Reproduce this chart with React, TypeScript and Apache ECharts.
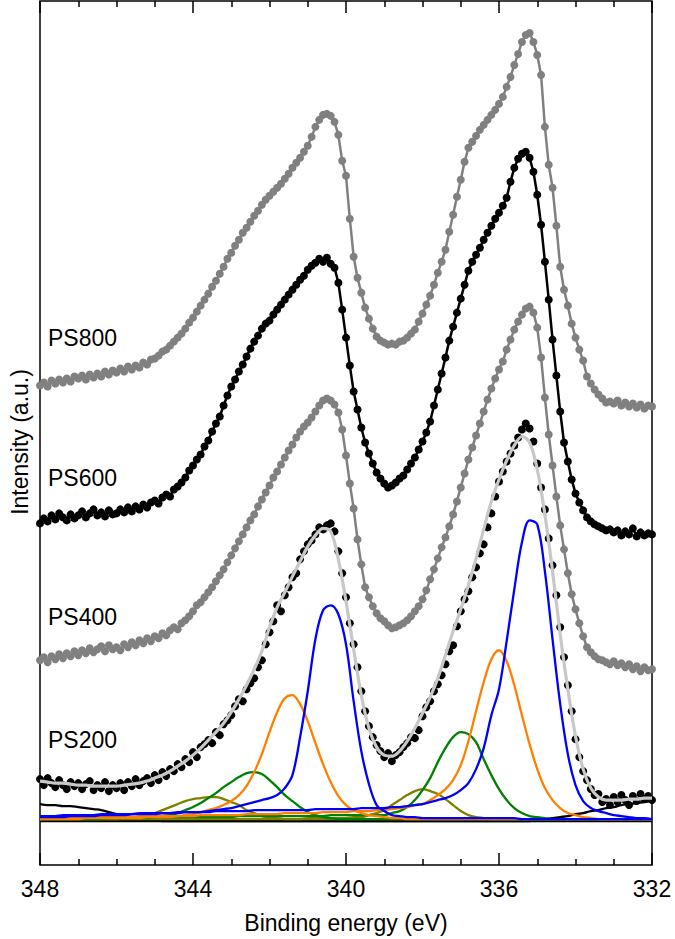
import React, { useEffect, useRef } from "react";
import * as echarts from "echarts";

// Binding energy grid: spectra sampled every 0.1 eV, fitted curves every 0.2 eV, from 348 down to 332 eV
const E_START = 348;
const SPEC_STEP = 0.1;
const FIT_STEP = 0.2;
const X_MIN = 332;
const X_MAX = 348;
const X_TICKS = [348, 344, 340, 336, 332];

const sampleNames = ["PS800", "PS600", "PS400", "PS200"];

// Measured spectra (offset for display, arbitrary units)
const ps800 = [
  480, 483, 479, 485, 482, 486, 483, 487, 484, 489,
  487, 490, 486, 491, 488, 492, 489, 494, 491, 495,
  493, 497, 494, 499, 496, 500, 498, 503, 501, 506,
  507, 510, 514, 516, 520, 524, 528, 532, 537, 543,
  548, 554, 560, 566, 572, 579, 585, 592, 599, 607,
  613, 620, 626, 633, 638, 644, 650, 655, 661, 666,
  670, 674, 678, 682, 687, 692, 698, 703, 708, 714,
  720, 729, 739, 746, 751, 752, 750, 744, 731, 705,
  690, 647, 609, 588, 573, 558, 547, 537, 529, 525,
  523, 521, 522, 521, 524, 525, 528, 532, 536, 544,
  552, 561, 570, 581, 593, 604, 616, 634, 651, 669,
  686, 704, 718, 724, 730, 736, 741, 746, 751, 756,
  762, 769, 779, 789, 801, 812, 824, 831, 833, 824,
  811, 791, 739, 701, 678, 640, 599, 576, 560, 542,
  528, 516, 505, 489, 482, 476, 471, 467, 463, 464,
  462, 465, 460, 463, 459, 462, 458, 461, 457, 460,
  459,
];

const ps600 = [
  342, 347, 344, 350, 346, 352, 348, 345, 351, 347,
  350, 354, 348, 352, 356, 350, 353, 349, 355, 351,
  352, 356, 353, 358, 354, 359, 356, 361, 358, 363,
  365, 362, 368, 371, 369, 376, 379, 383, 388, 395,
  400, 406, 411, 419, 425, 434, 442, 449, 460, 470,
  479, 486, 494, 501, 509, 517, 524, 530, 537, 542,
  545, 551, 556, 561, 566, 571, 576, 581, 586, 590,
  596, 600, 603, 607, 604, 608, 602, 598, 583, 556,
  528, 500, 474, 456, 438, 423, 412, 402, 393, 387,
  382, 378, 380, 383, 387, 390, 396, 402, 408, 416,
  424, 433, 444, 460, 476, 492, 508, 525, 539, 553,
  567, 581, 595, 604, 611, 618, 626, 633, 640, 647,
  653, 660, 668, 684, 698, 707, 712, 714, 708, 694,
  671, 641, 604, 566, 526, 490, 454, 423, 404, 386,
  372, 363, 355, 348, 344, 341, 339, 337, 335, 336,
  333, 335, 330, 334, 331, 337, 329, 333, 330, 332,
  331,
];

const ps400 = [
  205, 208, 203, 209, 206, 211, 207, 212, 209, 214,
  210, 215, 212, 217, 213, 216, 219, 214, 220, 216,
  218, 215, 221, 218, 223, 220, 225, 222, 227, 224,
  229, 227, 232, 230, 235, 238, 236, 242, 245, 249,
  254, 260, 263, 268, 273, 278, 284, 290, 296, 303,
  310, 317, 324, 331, 338, 345, 351, 359, 366, 373,
  380, 388, 394, 401, 408, 415, 421, 428, 434, 439,
  443, 448, 454, 460, 465, 467, 465, 461, 453, 436,
  410, 382, 357, 326, 301, 278, 268, 259, 252, 247,
  244, 240, 237, 238, 240, 242, 245, 249, 254, 259,
  266, 275, 286, 296, 307, 318, 328, 339, 351, 364,
  378, 392, 406, 418, 430, 442, 454, 466, 477, 487,
  496, 504, 516, 526, 536, 544, 551, 557, 559, 553,
  538, 508, 468, 431, 400, 369, 340, 316, 292, 271,
  256, 242, 229, 218, 213, 209, 206, 205, 203, 201,
  204, 200, 202, 198, 201, 196, 199, 194, 198, 195,
  196,
];

const ps200 = [
  86, 80, 87, 82, 78, 85, 80, 76, 83, 79,
  82, 76, 81, 84, 75, 80, 77, 83, 74, 80,
  77, 82, 75, 83, 79, 86, 80, 84, 87, 82,
  90, 85, 93, 89, 96, 94, 101, 98, 106, 103,
  113, 108, 118, 121, 125, 122, 133, 130, 141, 145,
  150, 159, 166, 164, 176, 182, 187, 198, 205, 221,
  233, 244, 260, 254, 270, 278, 288, 292, 306, 314,
  321, 325, 331, 338, 336, 340, 342, 334, 314, 292,
  268, 242, 221, 198, 174, 154, 139, 128, 120, 114,
  108, 112, 104, 110, 113, 118, 122, 128, 127, 135,
  149, 158, 164, 174, 181, 190, 201, 214, 220, 239,
  254, 266, 274, 288, 298, 312, 321, 338, 352, 369,
  384, 394, 404, 412, 420, 428, 436, 442, 437, 424,
  402, 378, 356, 327, 300, 270, 238, 208, 180, 154,
  126, 108, 94, 85, 76, 70, 71, 63, 66, 60,
  68, 63, 70, 65, 60, 69, 64, 71, 66, 69,
  65,
];

// Fit envelope and components for PS200 (0.2 eV grid)
const fitEnvelope = [
  84, 83, 82, 82, 81, 80, 80, 79, 79, 79,
  79, 80, 81, 82, 84, 87, 90, 94, 99, 104,
  110, 117, 125, 133, 142, 153, 166, 180, 196, 214,
  238, 258, 273, 289, 304, 319, 330, 337, 334, 306,
  264, 216, 170, 137, 118, 110, 109, 114, 124, 137,
  152, 168, 187, 210, 234, 256, 280, 307, 336, 364,
  386, 405, 420, 429, 423, 396, 351, 294, 231, 176,
  129, 96, 77, 68, 65, 65, 65, 66, 66, 67,
  67,
];

const blue52 = [
  49, 49, 49, 50, 50, 50, 50, 50, 51, 51,
  51, 51, 51, 52, 52, 52, 52, 52, 53, 53,
  53, 53, 53, 54, 54, 54, 54, 54, 55, 55,
  55, 55, 55, 55, 55, 55, 56, 56, 56, 56,
  56, 56, 57, 57, 57, 57, 58, 58, 59, 60,
  61, 63, 65, 67, 70, 75, 82, 96, 117, 150,
  176, 224, 276, 323, 345, 341, 294, 226, 161, 111,
  80, 64, 57, 54, 52, 50, 49, 48, 47, 47,
  46,
];

const blue32 = [
  48, 48, 48, 48, 49, 49, 49, 49, 50, 50,
  50, 50, 51, 51, 51, 51, 52, 52, 52, 53,
  53, 53, 54, 55, 56, 57, 59, 61, 63, 65,
  67, 70, 77, 90, 128, 174, 226, 255, 260, 251,
  221, 164, 114, 81, 60, 54, 50, 49, 48, 48,
  47, 47, 47, 47, 47, 47, 47, 47, 47, 47,
  47, 47, 47, 46, 46, 46, 46, 46, 46, 46,
  46, 46, 46, 46, 46, 46, 46, 46, 46, 46,
  46,
];

const orange52 = [
  47, 47, 47, 47, 47, 48, 48, 48, 48, 48,
  48, 48, 48, 49, 49, 49, 49, 49, 49, 49,
  49, 50, 50, 50, 50, 50, 50, 51, 51, 51,
  51, 51, 52, 52, 52, 52, 52, 53, 53, 53,
  53, 54, 54, 54, 55, 55, 56, 57, 58, 60,
  61, 65, 70, 76, 85, 100, 124, 154, 183, 206,
  215, 204, 180, 150, 121, 96, 77, 65, 57, 52,
  50, 48, 47, 46, 46, 46, 46, 46, 46, 46,
  46,
];

const orange32 = [
  46, 46, 46, 46, 46, 46, 47, 47, 47, 47,
  47, 47, 47, 47, 48, 48, 48, 48, 49, 50,
  51, 53, 55, 57, 60, 64, 70, 79, 93, 111,
  133, 153, 167, 170, 161, 144, 122, 101, 83, 69,
  60, 55, 52, 50, 49, 48, 47, 47, 46, 46,
  46, 46, 46, 46, 46, 46, 46, 46, 46, 46,
  46, 46, 46, 46, 46, 46, 46, 46, 46, 46,
  46, 46, 46, 46, 46, 46, 46, 46, 46, 46,
  46,
];

const green52 = [
  47, 47, 47, 47, 47, 47, 47, 47, 47, 47,
  47, 47, 47, 48, 48, 48, 48, 48, 48, 48,
  48, 48, 48, 48, 48, 48, 49, 49, 49, 49,
  49, 49, 49, 49, 49, 49, 49, 49, 50, 50,
  50, 50, 50, 50, 50, 50, 52, 54, 58, 65,
  75, 87, 103, 117, 128, 133, 131, 123, 106, 90,
  76, 65, 57, 52, 49, 48, 47, 46, 46, 46,
  46, 46, 46, 46, 46, 46, 46, 46, 46, 46,
  46,
];

const green32 = [
  46, 46, 46, 46, 46, 46, 46, 46, 46, 47,
  47, 47, 47, 47, 47, 48, 49, 50, 52, 55,
  58, 62, 67, 72, 78, 83, 88, 92, 93, 91,
  85, 78, 70, 64, 58, 53, 50, 48, 47, 46,
  46, 46, 46, 46, 46, 46, 46, 46, 46, 46,
  46, 46, 46, 46, 46, 46, 46, 46, 46, 46,
  46, 46, 46, 46, 46, 46, 46, 46, 46, 46,
  46, 46, 46, 46, 46, 46, 46, 46, 46, 46,
  46,
];

const olive52 = [
  46, 46, 46, 46, 46, 46, 46, 46, 46, 46,
  46, 46, 46, 46, 46, 46, 46, 46, 46, 46,
  46, 46, 46, 46, 46, 46, 46, 46, 46, 46,
  46, 46, 46, 46, 46, 47, 47, 47, 47, 47,
  47, 48, 48, 50, 52, 55, 60, 65, 70, 74,
  76, 74, 71, 66, 60, 54, 50, 48, 47, 46,
  46, 46, 46, 46, 46, 46, 46, 46, 46, 46,
  46, 46, 46, 46, 46, 46, 46, 46, 46, 46,
  46,
];

const olive32 = [
  46, 46, 46, 46, 46, 46, 46, 46, 46, 46,
  46, 47, 47, 48, 50, 52, 55, 58, 61, 64,
  66, 67, 68, 68, 66, 63, 60, 55, 52, 49,
  48, 47, 46, 46, 46, 46, 46, 46, 46, 46,
  46, 46, 46, 46, 46, 46, 46, 46, 46, 46,
  46, 46, 46, 46, 46, 46, 46, 46, 46, 46,
  46, 46, 46, 46, 46, 46, 46, 46, 46, 46,
  46, 46, 46, 46, 46, 46, 46, 46, 46, 46,
  46,
];

const satellites = [
  61, 60, 60, 59, 59, 58, 57, 56, 55, 53,
  51, 49, 48, 47, 46, 45, 44, 44, 44, 44,
  44, 44, 44, 44, 44, 44, 44, 44, 44, 44,
  44, 44, 44, 44, 44, 44, 44, 44, 44, 44,
  44, 44, 44, 44, 44, 44, 44, 44, 44, 44,
  44, 44, 44, 44, 44, 44, 44, 44, 44, 44,
  44, 44, 44, 44, 44, 45, 46, 47, 48, 49,
  51, 52, 54, 55, 57, 58, 60, 61, 62, 63,
  64,
];

const BASELINE = 44;

const FONT = "'Liberation Sans', Arial, Helvetica, sans-serif";

function pairs(values: number[], step: number): number[][] {
  return values.map((v, i) => [Math.round((E_START - i * step) * 100) / 100, v]);
}

export default function App() {
  const ref = useRef<HTMLDivElement>(null);

  useEffect(() => {
    if (!ref.current) return;
    const chart = echarts.init(ref.current, undefined, { renderer: "svg" });

    const spectrum = (name: string, data: number[], color: string) => ({
      name,
      type: "line",
      data: pairs(data, SPEC_STEP),
      symbol: "circle",
      symbolSize: 8,
      showSymbol: true,
      lineStyle: { color, width: 2.5 },
      itemStyle: { color, opacity: 1 },
      z: 2,
    });

    const component = (name: string, data: number[], color: string, width = 2.3) => ({
      name,
      type: "line",
      data: pairs(data, FIT_STEP),
      smooth: 0.35,
      showSymbol: false,
      lineStyle: { color, width },
      z: 4,
    });

    const ticks = {
      type: "value",
      inverse: true,
      min: X_MIN,
      max: X_MAX,
      interval: 4,
      axisLine: { show: false },
      axisTick: { show: true, inside: true, length: 12, lineStyle: { color: "#000", width: 1.5 } },
      minorTick: { show: true, splitNumber: 4, length: 6, lineStyle: { color: "#000", width: 1.5 } },
      splitLine: { show: false },
      minorSplitLine: { show: false },
    };

    const labelY = [338, 478, 617, 740];

    chart.setOption({
      animation: false,
      backgroundColor: "#fff",
      grid: {
        left: 40,
        right: 23,
        top: 1,
        bottom: 73,
        show: true,
        borderColor: "#000",
        borderWidth: 1.5,
        backgroundColor: "transparent",
      },
      xAxis: [
        {
          ...ticks,
          position: "bottom",
          axisLabel: {
            color: "#000",
            fontSize: 23,
            fontFamily: FONT,
            margin: 12,
            formatter: (v: number) => (X_TICKS.includes(v) ? String(v) : ""),
          },
          name: "Binding energy (eV)",
          nameLocation: "middle",
          nameGap: 46,
          nameTextStyle: { color: "#000", fontSize: 23, fontFamily: FONT },
        },
        {
          ...ticks,
          position: "top",
          axisLabel: { show: false },
        },
      ],
      yAxis: {
        type: "value",
        min: 0,
        max: 865,
        axisLine: { show: false },
        axisTick: { show: false },
        axisLabel: { show: false },
        splitLine: { show: false },
      },
      graphic: [
        {
          type: "text",
          x: 20,
          y: 442,
          rotation: Math.PI / 2,
          style: {
            text: "Intensity (a.u.)",
            fontSize: 23,
            fontFamily: FONT,
            fill: "#000",
            align: "center",
            verticalAlign: "middle",
          },
        },
        ...sampleNames.map((n, i) => ({
          type: "text",
          x: 48,
          y: labelY[i],
          style: {
            text: n,
            fontSize: 23,
            fontFamily: FONT,
            fill: "#000",
            align: "left",
            verticalAlign: "middle",
          },
        })),
      ],
      series: [
        spectrum("PS800", ps800, "#808080"),
        spectrum("PS600", ps600, "#000000"),
        spectrum("PS400", ps400, "#808080"),
        {
          name: "PS200",
          type: "scatter",
          data: pairs(ps200, SPEC_STEP),
          symbol: "circle",
          symbolSize: 8,
          itemStyle: { color: "#000", opacity: 1 },
          z: 2,
        },
        component("Fit", fitEnvelope, "#c8c8c8", 3.2),
        {
          name: "Baseline",
          type: "line",
          data: [
            [X_MAX, BASELINE],
            [X_MIN, BASELINE],
          ],
          showSymbol: false,
          lineStyle: { color: "#000", width: 2.5 },
          z: 3,
        },
        component("Satellite", satellites, "#000000"),
        component("Olive 3d3/2", olive32, "#808000"),
        component("Olive 3d5/2", olive52, "#808000"),
        component("Green 3d3/2", green32, "#008000"),
        component("Green 3d5/2", green52, "#008000"),
        component("Orange 3d3/2", orange32, "#ff8000"),
        component("Orange 3d5/2", orange52, "#ff8000"),
        component("Blue 3d3/2", blue32, "#0000ff"),
        component("Blue 3d5/2", blue52, "#0000ff"),
      ],
    });

    return () => chart.dispose();
  }, []);

  return (
    <div
      ref={ref}
      style={{ position: "fixed", left: 0, top: 0, width: 675, height: 939, background: "#fff" }}
    />
  );
}
